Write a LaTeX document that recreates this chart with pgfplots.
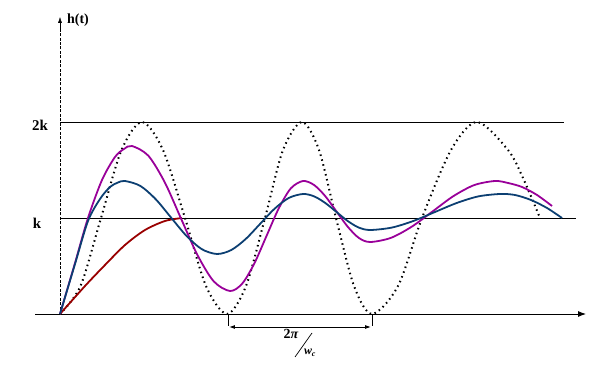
\documentclass[border=0pt]{standalone}
\usepackage{fontspec}
\setmainfont{Liberation Serif}
\usepackage{pgfplots}
\pgfplotsset{compat=1.18}
\usetikzlibrary{arrows.meta}
\definecolor{cmag}{HTML}{990099}
\definecolor{cblue}{HTML}{0C3F72}
\definecolor{cred}{HTML}{990000}
\begin{document}
\begin{tikzpicture}
\begin{axis}[
  width=612bp, height=374bp, scale only axis,
  xmin=-60, xmax=552, ymin=-60, ymax=314,
  hide axis, clip=false,
]
\path (axis cs:-60,-60) rectangle (axis cs:552,314);
% reference lines
\addplot[black, line width=0.9pt] coordinates {(0,192) (504,192)};
\addplot[black, line width=0.9pt] coordinates {(0,96) (516,96)};
% axes
\draw[black, line width=0.9pt, -{Latex[length=8pt,width=6pt]}] (axis cs:-25,0) -- (axis cs:526,0);
\draw[black, line width=0.6pt, dash pattern=on 3pt off 1.5pt] (axis cs:0,0) -- (axis cs:0,288);
\draw[black, -{Latex[length=6pt,width=4pt]}] (axis cs:0,284) -- (axis cs:0,297);
% dotted undamped
\addplot[black, line width=2pt, dash pattern=on 1.5pt off 3.6pt, smooth] coordinates {
(0,0) (20.5,28) (41,96) (61.5,164) (82,192)
(103,164) (125,96) (146,28) (167,0)
(186,28) (205,96) (223,164) (242,192)
(259,164) (276,96) (294,28) (312,0)
(338,28) (362,96) (391,164) (417,192)
(448,164) (463,136) (480,96)};
% red
\addplot[cred, line width=1.8pt, smooth] coordinates {
(0,0) (25,28) (45,49) (65,69) (85,84) (105,93) (122,96)};
% magenta
\addplot[cmag, line width=1.8pt, smooth] coordinates {
(0,0) (15,51) (28,96) (42,134) (55,157) (64,165) (72,168)
(88.3,158.3) (104.7,131.8) (121,95.5) (137.3,59.3) (153.7,32.7) (170,23)
(182.2,30.4) (194.3,50.5) (206.5,78) (218.7,105.5) (230.8,125.6) (243,133)
(254.2,128.9) (265.3,117.8) (276.5,102.5) (287.7,87.3) (298.8,76.1) (310,72)
(330.8,76.1) (351.7,87.3) (372.5,102.5) (393.3,117.8) (414.2,128.9) (435,133)
(448,131) (462,127) (477,119) (492,108)};
% blue
\addplot[cblue, line width=1.8pt, smooth] coordinates {
(0,0) (15,50) (28,93) (40,115) (50,127) (58,131.5) (65,133)
(80.3,128.1) (95.7,114.8) (111,96.5) (126.3,78.3) (141.7,64.9) (157,60)
(171.3,64) (185.7,75) (200,90) (214.3,105) (228.7,116) (243,120)
(254.2,117.6) (265.3,111) (276.5,102) (287.7,93) (298.8,86.4) (310,84)
(331.7,86.4) (353.3,93) (375,102) (396.7,111) (418.3,117.6) (440,120)
(455,119) (471,114) (487,106) (502,96)};
% labels
\node[font=\fontsize{15}{17}\selectfont\bfseries] at (axis cs:-20,188.5) {2k};
\node[font=\fontsize{15}{17}\selectfont\bfseries] at (axis cs:-23,91) {k};
\node[font=\fontsize{14}{16}\selectfont\bfseries] at (axis cs:18,293.5) {h(t)};
% period marker
\draw[black, line width=0.6pt] (axis cs:168,0) -- (axis cs:168,-12);
\draw[black, line width=0.6pt] (axis cs:312,0) -- (axis cs:312,-12);
\draw[black, line width=0.9pt, {Latex[length=6pt,width=4pt]}-{Latex[length=6pt,width=4pt]}] (axis cs:169,-13) -- (axis cs:311,-13);
\node[font=\fontsize{14}{16}\selectfont\bfseries] at (axis cs:231,-20) {2\textit{π}};
\draw[black, line width=0.7pt] (axis cs:235,-43) -- (axis cs:252,-19);
\node[font=\fontsize{12}{14}\selectfont\bfseries\itshape, inner sep=0pt] at (axis cs:250,-39) {w\textsubscript{c}};
\end{axis}
\end{tikzpicture}
\end{document}
